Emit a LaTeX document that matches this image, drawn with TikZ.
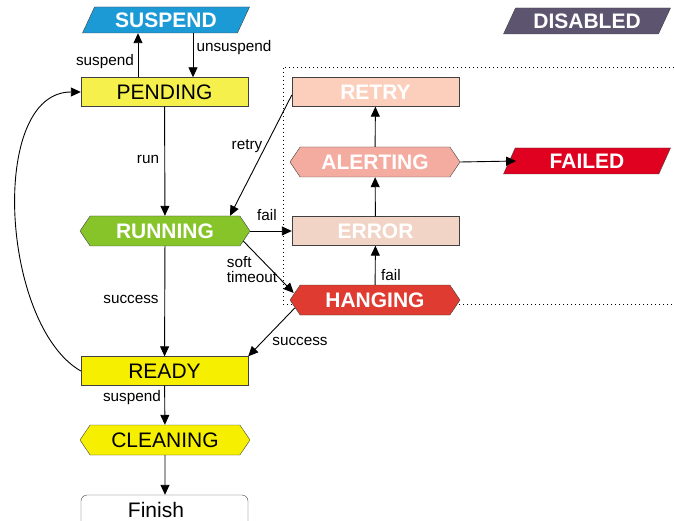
\documentclass[tikz,border=0pt]{standalone}
\usepackage{fontspec}
\setmainfont{Liberation Sans}
\usetikzlibrary{shapes.geometric,shapes.symbols,arrows.meta}

\definecolor{suspendblue}{HTML}{1B9AD6}
\definecolor{disabledgray}{HTML}{5D5470}
\definecolor{pendingyellow}{HTML}{F6F04C}
\definecolor{readyyellow}{HTML}{F7EF00}
\definecolor{retrypink}{HTML}{FCCFBC}
\definecolor{alertpink}{HTML}{F5ACA0}
\definecolor{failedred}{HTML}{E0001F}
\definecolor{runninggreen}{HTML}{86C42A}
\definecolor{errorpink}{HTML}{F2D4C6}
\definecolor{hangingred}{HTML}{E03B31}

\tikzset{
  state/.style={draw=black!75, minimum width=167pt, minimum height=29pt,
                inner sep=0pt, font=\fontsize{21}{23}\selectfont},
  hexa/.style={state, signal, signal to=west and east, signal pointer angle=112,
               minimum width=170pt, minimum height=30pt},
  para/.style={state, trapezium, trapezium left angle=51, trapezium right angle=129,
               trapezium stretches body, minimum height=26pt},
  white bold/.style={text=white, font=\fontsize{21}{23}\selectfont\bfseries},
  lbl/.style={font=\fontsize{15.3}{17}\selectfont, inner sep=0pt},
  arr/.style={-{Triangle[length=10pt,width=9pt]}, line width=0.9pt},
}

\begin{document}
\begin{tikzpicture}[x=1pt,y=1pt]
        \useasboundingbox (0,0) rectangle (674,-521);
        \draw [dash pattern=on 1pt off 3pt] (674,-67) -- (283,-67) -- (283,-304) -- (674,-304); % group box

        % states
        \node [para, fill=suspendblue, white bold]   (susp)  at (166,-20)  {SUSPEND};
        \node [para, fill=disabledgray, white bold]  (dis)   at (587,-21)  {DISABLED};
        \node [state, fill=pendingyellow]            (pend)  at (164.5,-92) {PENDING};
        \node [state, fill=retrypink, white bold]    (retry) at (375.5,-92) {RETRY};
        \node [hexa, fill=alertpink, white bold]     (alert) at (375,-162) {ALERTING};
        \node [para, fill=failedred, white bold]     (fail)  at (587,-161) {FAILED};
        \node [hexa, fill=runninggreen, white bold]  (run)   at (165,-231) {RUNNING};
        \node [state, fill=errorpink, white bold]    (err)   at (375.5,-231) {ERROR};
        \node [hexa, fill=hangingred, white bold]    (hang)  at (375,-300) {HANGING};
        \node [state, fill=readyyellow]              (ready) at (164.5,-371) {READY};
        \node [hexa, fill=readyyellow]               (clean) at (165,-440) {CLEANING};
        \node [state, rounded corners=6pt, fill=white, minimum height=32pt,
               text height=12pt, text depth=0pt]     (fin)   at (164.5,-511) {\hspace*{-17pt}Finish};

        % transitions
        \draw [arr] ([xshift=-26.5pt]pend.north) -- ([xshift=-26.5pt]pend.north |- susp.south); % suspend
        \node [lbl] (l1) at (105,-62) {suspend};
        \draw [arr] ([xshift=28.5pt]pend.north |- susp.south) -- ([xshift=28.5pt]pend.north); % unsuspend
        \node [lbl] (l2) at (234,-48) {unsuspend};
        \draw [arr] (pend) -- (run);                                      % run
        \node [lbl] (l3) at (148,-159) {run};
        \draw [arr] (run) -- (ready);                                     % success
        \node [lbl] (l4) at (131,-299) {success};
        \draw [arr] (ready.west) to [out=150, in=180, looseness=0.85] (pend.west); % back
        \draw [arr] ([yshift=-3pt]retry.west) -- ([xshift=-10pt]run.north east);  % retry
        \node [lbl] (l5) at (247,-146) {retry};
        \draw [arr] (run.east) -- (err.west);                             % fail
        \node [lbl] (l6) at (267,-215) {fail};
        \draw [arr] ([shift={(-7pt,-10pt)}]run.east) -- ([shift={(4pt,7pt)}]hang.west); % soft timeout
        \node [lbl, align=left] (l7) at (252,-270) {soft\\[-2pt]timeout};
        \draw [arr] (hang) -- (err);                                      % fail
        \node [lbl] (l8) at (391,-275) {fail};
        \draw [arr] (err) -- (alert);                                     %
        \draw [arr] (alert) -- (retry);                                   %
        \draw [arr] (alert.east) -- ([xshift=7pt]fail.west);              % failed
        \draw [arr] ([shift={(5pt,-8pt)}]hang.west) -- (ready.north east); % success
        \node [lbl] (l9) at (300,-341) {success};
        \draw [arr] (ready) -- (clean);                                   % suspend
        \node [lbl] (l10) at (132,-398) {suspend};
        \draw [arr] (clean) -- (clean |- fin.north);                      %
\end{tikzpicture}
\end{document}
